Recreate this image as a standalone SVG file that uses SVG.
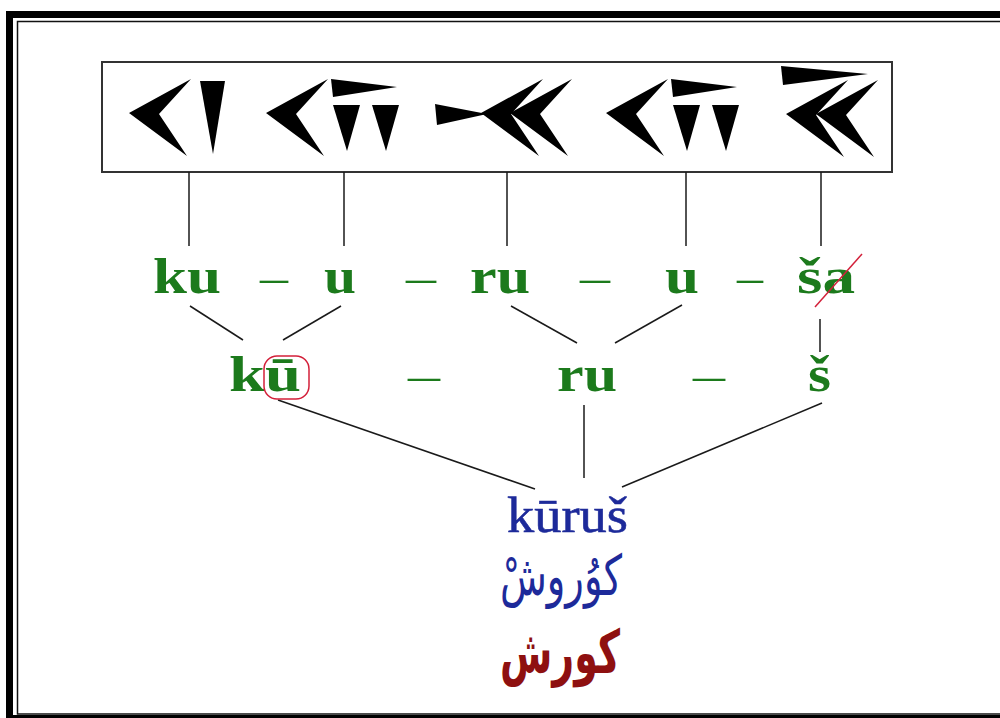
<svg xmlns="http://www.w3.org/2000/svg" xmlns:xlink="http://www.w3.org/1999/xlink" width="1000" height="718" viewBox="0 0 1000 718">
  <style>
    .lat { font-family: "Liberation Serif", "Times New Roman", serif; font-weight: bold; font-size: 50px; fill: #1c7a1c; }
    .dash { font-family: "Liberation Serif", serif; font-size: 46px; fill: #1c7a1c; }
    .name { font-family: "Liberation Serif", serif; font-size: 50px; fill: #1d2a9a; stroke: #1d2a9a; stroke-width: 0.6; }
    .fa { font-family: "DejaVu Sans", sans-serif; }
    .wedge { fill: #000; }
    .conn line { stroke: #1a1a1a; stroke-width: 1.5; }
    .mark { fill: none; stroke: #d3203a; stroke-width: 1.5; }
  </style>
  <defs>
    <!-- cuneiform wedge shapes -->
    <polygon id="wk" class="wedge" points="0,0 62,-34 30,1 58,43"/>
    <polygon id="hw" class="wedge" points="0,0 2,18 66,8"/>
    <polygon id="vw" class="wedge" points="0,0 27,0 14,46"/>
    <g id="sign-u-shape">
      <use xlink:href="#wk" x="266" y="113"/>
      <use xlink:href="#hw" x="331" y="79"/>
      <use xlink:href="#vw" x="333" y="105"/>
      <use xlink:href="#vw" x="372" y="105"/>
    </g>
  </defs>

  <rect width="1000" height="718" fill="#fff"/>

  <!-- double frame -->
  <g id="frame">
    <rect x="9.5" y="14.5" width="1000" height="704" fill="none" stroke="#000" stroke-width="7"/>
    <rect x="17.5" y="21.5" width="1000" height="692.5" fill="none" stroke="#111" stroke-width="1.5"/>
  </g>

  <!-- cuneiform panel -->
  <g id="cuneiform">
    <rect x="102" y="62" width="790" height="110" fill="none" stroke="#333" stroke-width="2"/>
    <g id="sign-ku">
      <use xlink:href="#wk" x="129" y="113"/>
      <polygon class="wedge" points="200,81 225,81 213,154"/>
    </g>
    <g id="sign-u1">
      <use xlink:href="#sign-u-shape"/>
    </g>
    <g id="sign-ru">
      <polygon class="wedge" points="435,104 437,125 487,114"/>
      <use xlink:href="#wk" x="481" y="113"/>
      <use xlink:href="#wk" x="510" y="113"/>
    </g>
    <g id="sign-u2">
      <use xlink:href="#sign-u-shape" x="340"/>
    </g>
    <g id="sign-sha">
      <polygon class="wedge" points="781,66 783,85 868,74"/>
      <use xlink:href="#wk" x="786" y="114"/>
      <use xlink:href="#wk" x="816" y="114"/>
    </g>
  </g>

  <!-- connectors -->
  <g id="connectors" class="conn">
    <line x1="189" y1="172" x2="189" y2="246"/>
    <line x1="344" y1="172" x2="344" y2="246"/>
    <line x1="507" y1="172" x2="507" y2="246"/>
    <line x1="686" y1="172" x2="686" y2="246"/>
    <line x1="821" y1="172" x2="821" y2="246"/>

    <line x1="190" y1="306" x2="243" y2="340"/>
    <line x1="341" y1="306" x2="283" y2="340"/>
    <line x1="511" y1="306" x2="577" y2="343"/>
    <line x1="682" y1="305" x2="615" y2="343"/>
    <line x1="820" y1="319" x2="820" y2="352"/>

    <line x1="278" y1="400" x2="535" y2="489"/>
    <line x1="584" y1="405" x2="584" y2="478"/>
    <line x1="822" y1="403" x2="622" y2="487"/>
  </g>

  <!-- syllable row -->
  <g id="row-syllables">
    <text class="lat" x="153" y="293" textLength="68" lengthAdjust="spacingAndGlyphs">ku</text>
    <text class="dash" x="260" y="293" textLength="28" lengthAdjust="spacingAndGlyphs">–</text>
    <text class="lat" x="324" y="293" textLength="32" lengthAdjust="spacingAndGlyphs">u</text>
    <text class="dash" x="406" y="293" textLength="30" lengthAdjust="spacingAndGlyphs">–</text>
    <text class="lat" x="470" y="293" textLength="60" lengthAdjust="spacingAndGlyphs">ru</text>
    <text class="dash" x="580" y="293" textLength="30" lengthAdjust="spacingAndGlyphs">–</text>
    <text class="lat" x="665" y="293" textLength="34" lengthAdjust="spacingAndGlyphs">u</text>
    <text class="dash" x="737" y="293" textLength="26" lengthAdjust="spacingAndGlyphs">–</text>
    <text class="lat" x="797" y="293" textLength="58" lengthAdjust="spacingAndGlyphs">ša</text>
    <line class="mark" x1="815" y1="307" x2="862" y2="254"/>
  </g>

  <!-- merged syllable row -->
  <g id="row-merged">
    <text class="lat" x="229" y="391" textLength="72" lengthAdjust="spacingAndGlyphs">kū</text>
    <rect class="mark" x="264" y="356" width="45" height="43" rx="13"/>
    <text class="dash" x="408" y="391" textLength="32" lengthAdjust="spacingAndGlyphs">–</text>
    <text class="lat" x="557" y="391" textLength="60" lengthAdjust="spacingAndGlyphs">ru</text>
    <text class="dash" x="693" y="391" textLength="32" lengthAdjust="spacingAndGlyphs">–</text>
    <text class="lat" x="808" y="391" textLength="23" lengthAdjust="spacingAndGlyphs">š</text>
  </g>

  <!-- resulting name -->
  <g id="name-latin">
    <text class="name" x="507" y="532" textLength="121" lengthAdjust="spacingAndGlyphs">kūruš</text>
  </g>
  <g id="name-persian-vocalised">
    <text class="fa" x="500" y="595" font-size="56" textLength="122" lengthAdjust="spacingAndGlyphs" fill="#1d2a9a">کوُروشْ</text>
  </g>
  <g id="name-persian">
    <text class="fa" x="500" y="673" font-size="60" font-weight="bold" textLength="120" lengthAdjust="spacingAndGlyphs" fill="#8e1010">کورش</text>
  </g>
</svg>
